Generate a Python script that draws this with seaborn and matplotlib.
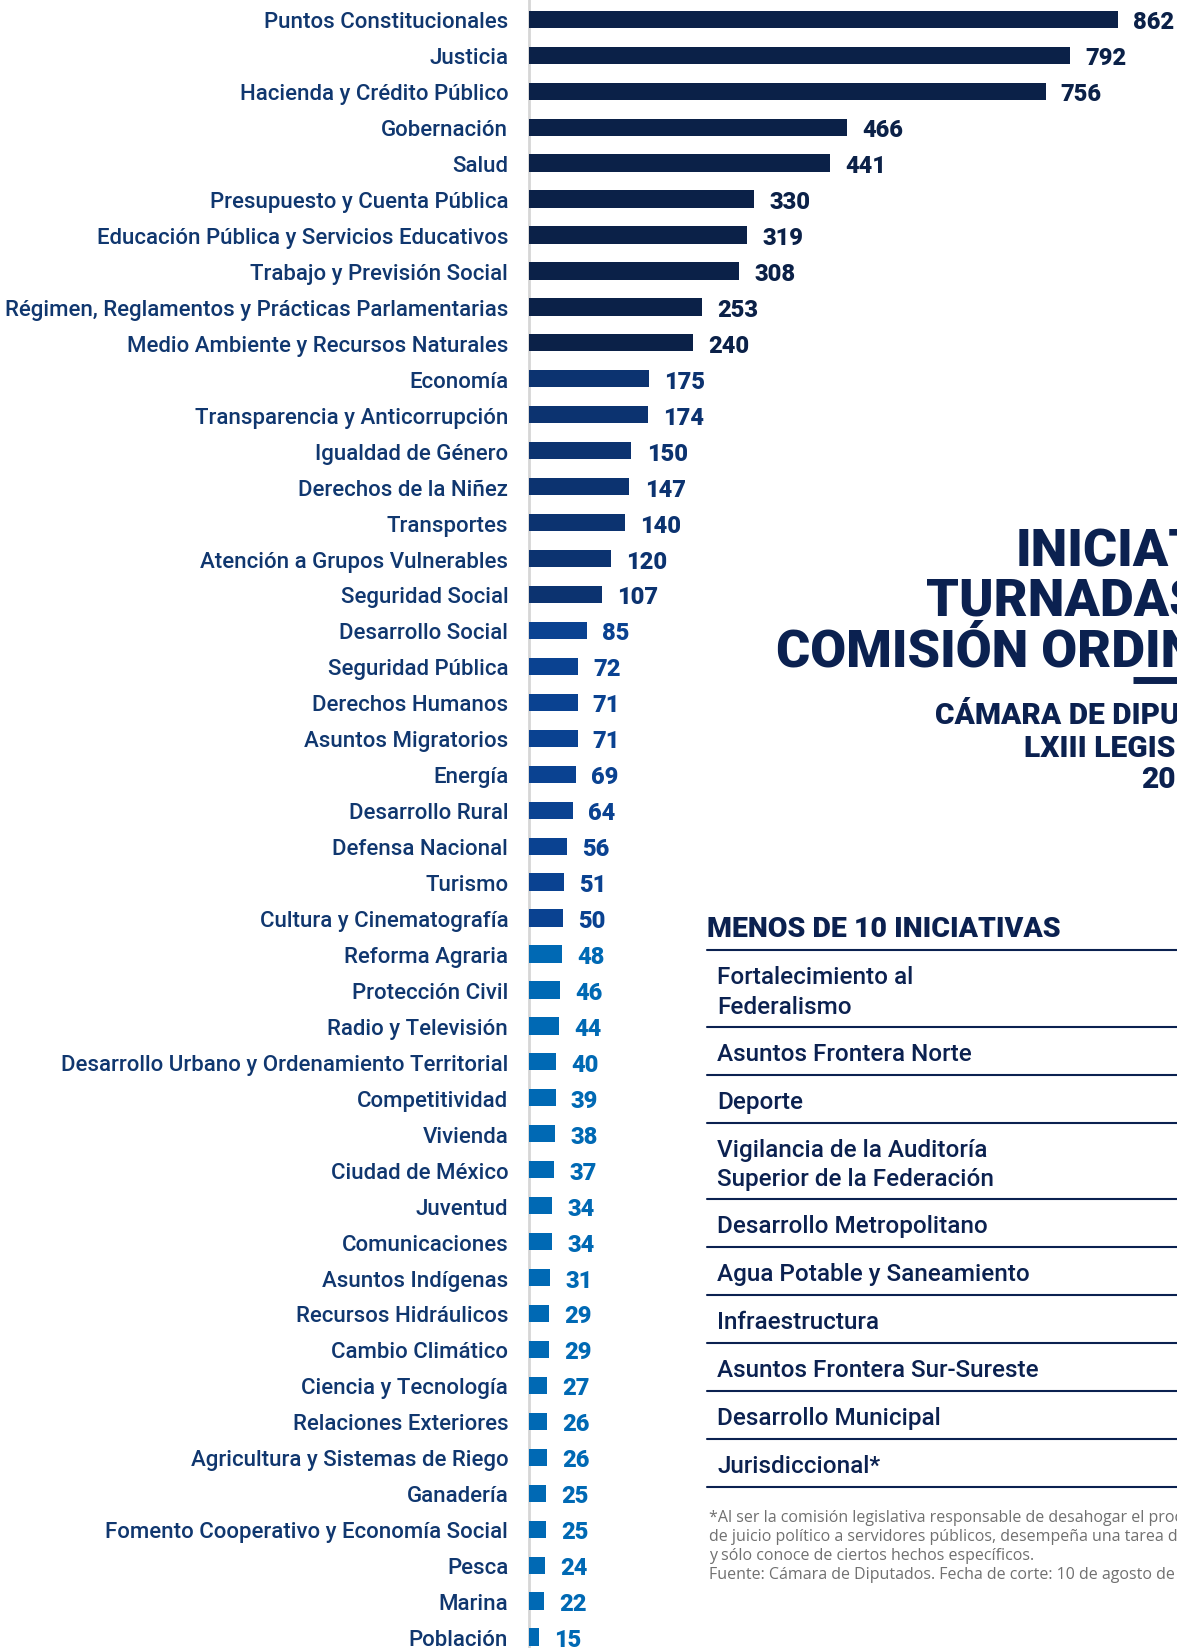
import matplotlib
matplotlib.use('Agg')
import matplotlib.pyplot as plt
import seaborn as sns

# committees and number of initiatives turned to each
committees = [
    'Puntos Constitucionales', 'Justicia', 'Hacienda y Crédito Público',
    'Gobernación', 'Salud', 'Presupuesto y Cuenta Pública',
    'Educación Pública y Servicios Educativos', 'Trabajo y Previsión Social',
    'Régimen, Reglamentos y Prácticas Parlamentarias',
    'Medio Ambiente y Recursos Naturales', 'Economía',
    'Transparencia y Anticorrupción', 'Igualdad de Género',
    'Derechos de la Niñez', 'Transportes', 'Atención a Grupos Vulnerables',
    'Seguridad Social', 'Desarrollo Social', 'Seguridad Pública',
    'Derechos Humanos', 'Asuntos Migratorios', 'Energía', 'Desarrollo Rural',
    'Defensa Nacional', 'Turismo', 'Cultura y Cinematografía',
    'Reforma Agraria', 'Protección Civil', 'Radio y Televisión',
    'Desarrollo Urbano y Ordenamiento Territorial', 'Competitividad',
    'Vivienda', 'Ciudad de México', 'Juventud', 'Comunicaciones',
    'Asuntos Indígenas', 'Recursos Hidráulicos', 'Cambio Climático',
    'Ciencia y Tecnología', 'Relaciones Exteriores',
    'Agricultura y Sistemas de Riego', 'Ganadería',
    'Fomento Cooperativo y Economía Social', 'Pesca', 'Marina', 'Población',
]
initiatives = [
    862, 792, 756, 466, 441, 330, 319, 308, 253, 240, 175, 174, 150, 147,
    140, 120, 107, 85, 72, 71, 71, 69, 64, 56, 51, 50, 48, 46, 44, 40, 39,
    38, 37, 34, 34, 31, 29, 29, 27, 26, 26, 25, 25, 24, 22, 15,
]

# committees with fewer than 10 initiatives
small_committees = [
    'Fortalecimiento al\nFederalismo', 'Asuntos Frontera Norte', 'Deporte',
    'Vigilancia de la Auditoría\nSuperior de la Federación',
    'Desarrollo Metropolitano', 'Agua Potable y Saneamiento',
    'Infraestructura', 'Asuntos Frontera Sur-Sureste',
    'Desarrollo Municipal', 'Jurisdiccional*',
]

title_lines = ['INICIATIVAS', 'TURNADAS POR', 'COMISIÓN ORDINARIA']
subtitle_lines = ['CÁMARA DE DIPUTADOS', 'LXIII LEGISLATURA', '2015-2018']
table_title = 'MENOS DE 10 INICIATIVAS'
footnote_lines = [
    '*Al ser la comisión legislativa responsable de desahogar el procedimiento',
    'de juicio político a servidores públicos, desempeña una tarea distinta',
    'y sólo conoce de ciertos hechos específicos.',
    'Fuente: Cámara de Diputados. Fecha de corte: 10 de agosto de 2018.',
]

NAVY = '#0b2150'
LABEL = '#10376f'


def tier_color(v):
    if v >= 200:
        return '#0b2148'
    if v >= 100:
        return '#0c3370'
    if v >= 50:
        return '#0a4291'
    return '#0069b4'


bar_colors = [tier_color(v) for v in initiatives]

sns.set_style('white')
plt.rcParams['font.family'] = ['Roboto', 'DejaVu Sans']

W, H = 1177, 1649
fig = plt.figure(figsize=(W / 100, H / 100), dpi=100)

# bar chart
ax = fig.add_axes([529 / W, 0, (W - 529) / W, 1])
sns.barplot(x=initiatives, y=committees, hue=committees, palette=bar_colors,
            legend=False, orient='h', width=0.48, saturation=1,
            linewidth=0, ax=ax)
step = 35.95
ax.set_ylim((H - 20.3) / step, -20.3 / step)
ax.set_xlim(0, (W - 529) / 0.6833)
sns.despine(ax=ax, left=True, bottom=True)
ax.set_xticks([])
ax.set_xlabel('')
ax.set_ylabel('')
ax.tick_params(axis='y', length=0, pad=15, labelsize=16, labelcolor=LABEL)
for lbl in ax.get_yticklabels():
    lbl.set_fontweight('medium')
ax.axvline(0, color='#d6d6d6', lw=2, clip_on=False, zorder=0)

for cont, v, c in zip(ax.containers, initiatives, bar_colors):
    for t in ax.bar_label(cont, labels=[str(v)], padding=11, fontsize=17,
                          fontweight='heavy', color=c):
        t.set_va('center_baseline')

# right-hand panel drawn in pixel coordinates
ov = fig.add_axes([0, 0, 1, 1], facecolor='none')
ov.set_xlim(0, W)
ov.set_ylim(H, 0)
ov.axis('off')

for txt, x, y in zip(title_lines, [1016, 926, 776], [567, 617, 667]):
    ov.text(x, y, txt, fontsize=37.5, fontweight='heavy', color=NAVY,
            ha='left', va='baseline')
ov.plot([1133, W + 5], [680.5, 680.5], color=NAVY, lw=5, solid_capstyle='butt')
for txt, x, y in zip(subtitle_lines, [935, 1024, 1141], [724, 757, 788]):
    ov.text(x, y, txt, fontsize=21.5, fontweight='heavy', color=NAVY,
            ha='left', va='baseline')

ov.text(707, 937, table_title, fontsize=20.5, fontweight='heavy', color=NAVY,
        ha='left', va='baseline')
top = 951
ov.plot([707, W + 5], [top, top], color=NAVY, lw=1.5)
for name in small_committees:
    lines = name.split('\n')
    h = 48 if len(lines) == 1 else 76.5
    for i, ln in enumerate(lines):
        ov.text(717, top + 33.5 + i * 29.5, ln, fontsize=17.5,
                fontweight='medium', color=NAVY, ha='left', va='baseline')
    top += h
    ov.plot([707, W + 5], [top, top], color=NAVY, lw=1.5)

for i, ln in enumerate(footnote_lines):
    ov.text(709, 1522 + i * 19, ln, fontsize=11.5, color='#707070',
            family=['Open Sans', 'DejaVu Sans'], ha='left', va='baseline')

fig.savefig('out.png', dpi=100)
